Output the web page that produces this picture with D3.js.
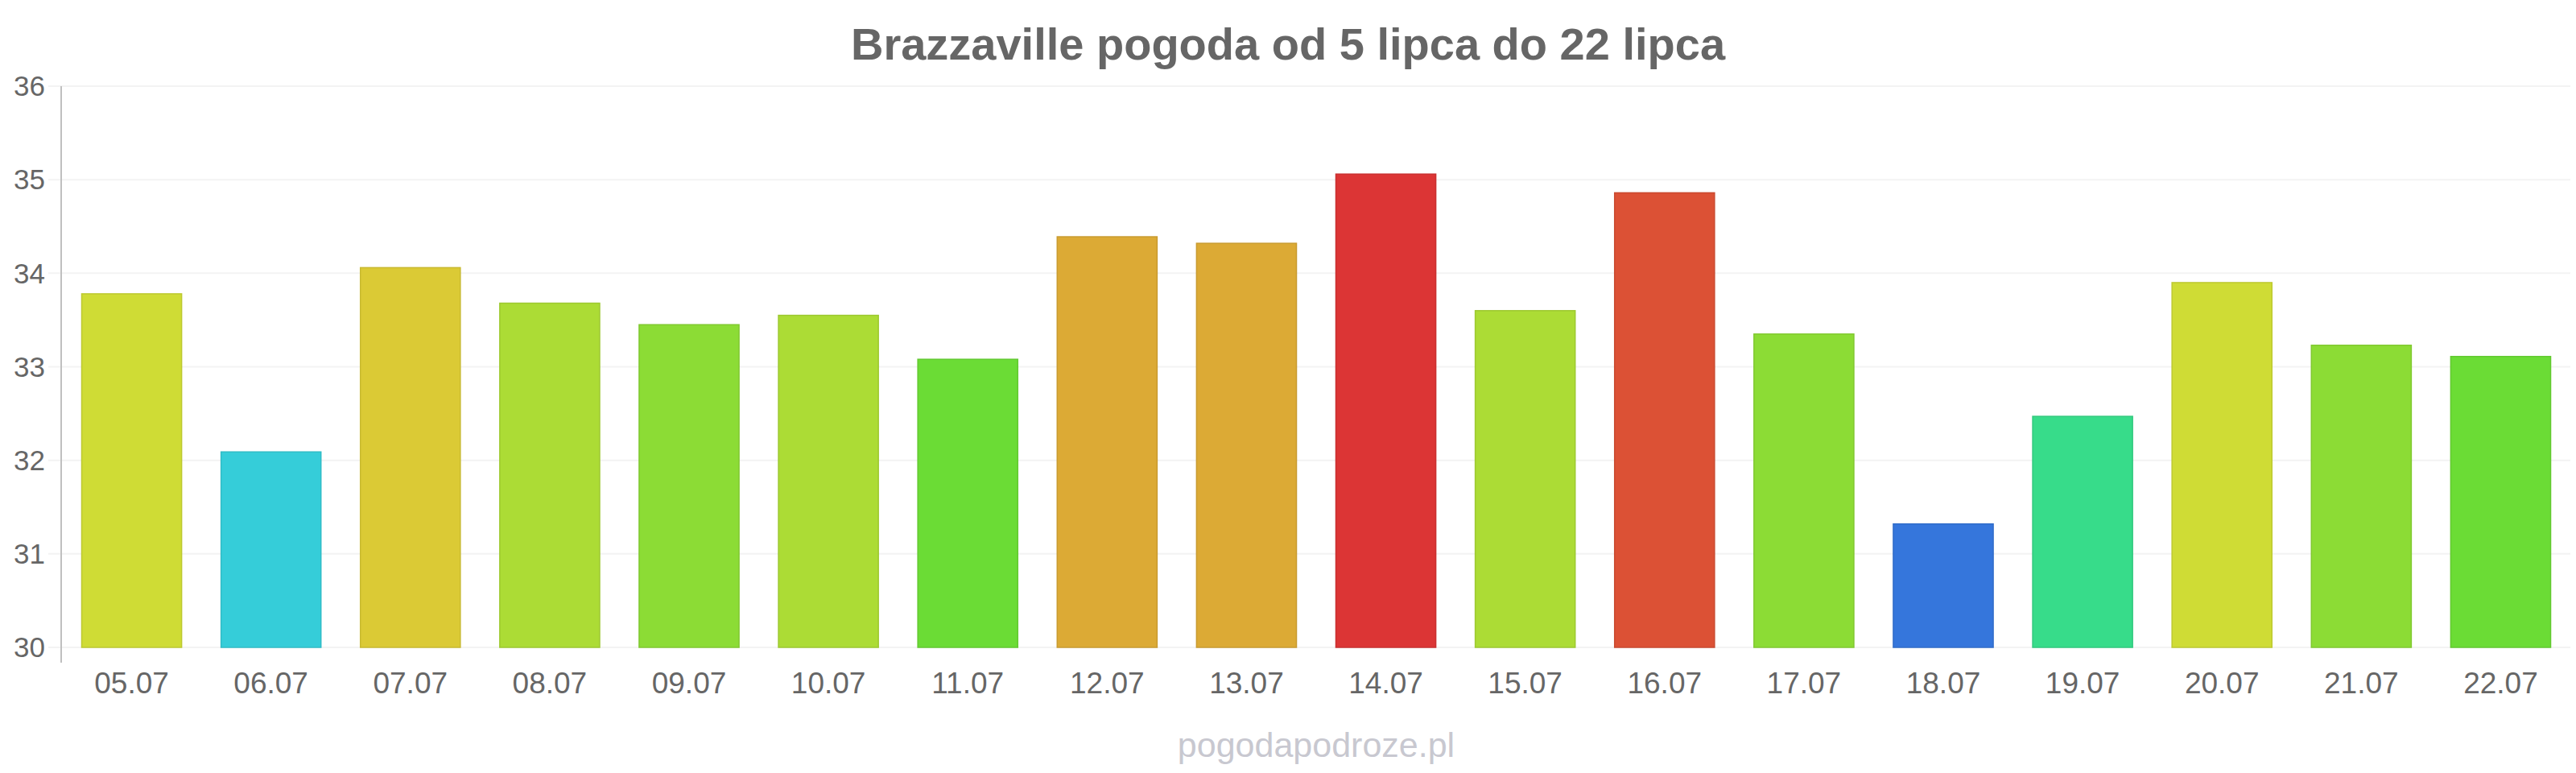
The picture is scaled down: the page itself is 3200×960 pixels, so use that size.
<!DOCTYPE html>
<html>
<head>
<meta charset="utf-8">
<script src="https://cdn.jsdelivr.net/npm/d3@7"></script>
<style>
  html, body { margin: 0; padding: 0; background: #fff; }
  svg { display: block; font-family: "Liberation Sans", Arial, sans-serif; }
</style>
</head>
<body>
<svg id="chart" width="3200" height="960"></svg>
<script>
const categories = ["05.07","06.07","07.07","08.07","09.07","10.07","11.07","12.07","13.07","14.07","15.07","16.07","17.07","18.07","19.07","20.07","21.07","22.07"];
const temperatures = [33.78,32.09,34.06,33.68,33.45,33.55,33.08,34.39,34.32,35.06,33.60,34.86,33.35,31.32,32.47,33.90,33.23,33.11];
const barColors = ["#cfdc35","#35cdd9","#dbca35","#acdc35","#8cdc35","#acdc35","#6bdc35","#dcaa35","#dcaa35","#dc3535","#acdc35","#dc5135","#8cdc35","#3576dc","#37dc8a","#cfdc35","#8cdc35","#6bdc35"];
const yTicks = [30,31,32,33,34,35,36];
const titleText = "Brazzaville pogoda od 5 lipca do 22 lipca";
const creditText = "pogodapodroze.pl";

(function () {
const svg = d3.select("#chart");
const pLeft = 77, pRight = 3193, pTop = 107, pBottom = 804;

const x = d3.scaleBand().domain(categories).range([pLeft, pRight]).paddingInner(0.283).paddingOuter(0.1415);
const y = d3.scaleLinear().domain([30, 36]).range([pBottom, pTop]);

// gridlines
svg.append("g").selectAll("line").data(yTicks).join("line")
  .attr("x1", 60).attr("x2", pRight)
  .attr("y1", d => y(d)).attr("y2", d => y(d))
  .attr("stroke", "#f3f3f3").attr("stroke-width", 2);

// y axis line
svg.append("line").attr("x1", 76).attr("x2", 76).attr("y1", pTop).attr("y2", 823)
  .attr("stroke", "#c0c0c0").attr("stroke-width", 2);

// y tick labels
svg.append("g").selectAll("text").data(yTicks).join("text")
  .attr("x", 56).attr("y", d => y(d)).attr("dy", "0.35em")
  .attr("text-anchor", "end").attr("fill", "#666").attr("font-size", 35)
  .text(d => d);

// bars
const data = categories.map((c, i) => ({c, v: temperatures[i], col: barColors[i]}));
svg.append("g").selectAll("rect").data(data).join("rect")
  .attr("x", d => x(d.c)).attr("width", x.bandwidth())
  .attr("y", d => y(d.v)).attr("height", d => y(30) - y(d.v))
  .attr("fill", d => d.col)
  .attr("stroke", d => d3.color(d.col).darker(0.25))
  .attr("stroke-width", 1.5);

// x labels
svg.append("g").selectAll("text").data(categories).join("text")
  .attr("x", d => x(d) + x.bandwidth() / 2).attr("y", 861)
  .attr("text-anchor", "middle").attr("fill", "#666").attr("font-size", 37)
  .text(d => d);

// title
svg.append("text").attr("x", 1600).attr("y", 74).attr("text-anchor", "middle")
  .attr("fill", "#666").attr("font-size", 56).attr("font-weight", "bold")
  .text(titleText);

// credit
svg.append("text").attr("x", (pLeft + pRight) / 2).attr("y", 940).attr("text-anchor", "middle")
  .attr("fill", "#c8c8d0").attr("font-size", 43)
  .text(creditText);
})();
</script>
</body>
</html>
